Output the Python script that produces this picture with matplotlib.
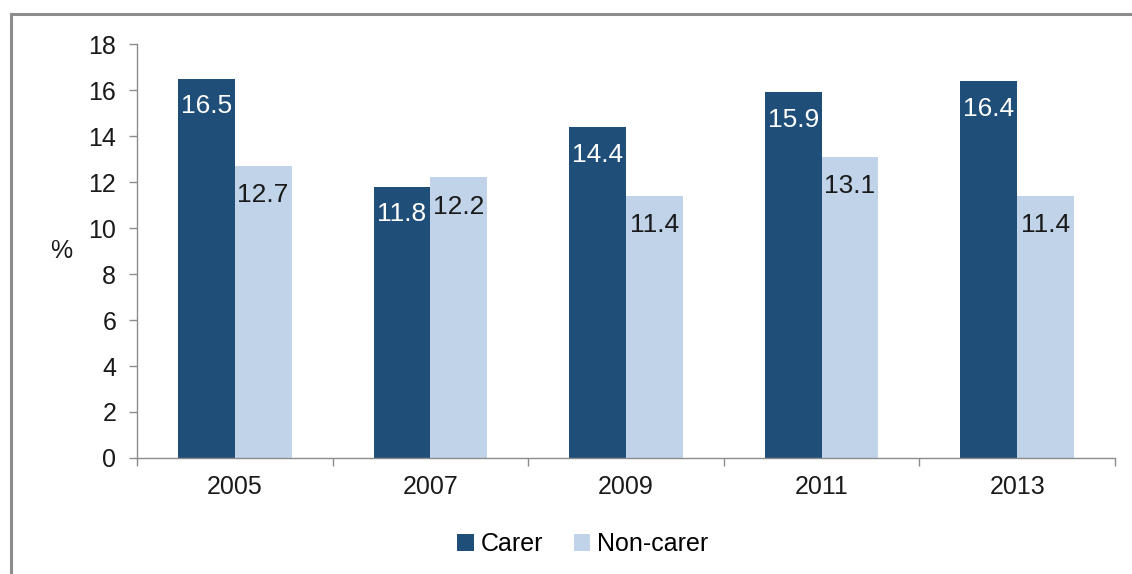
import numpy as np
import matplotlib.pyplot as plt
from matplotlib.lines import Line2D

plt.rcParams['font.family'] = ['Liberation Sans', 'DejaVu Sans']

# Daten
years = ['2005', '2007', '2009', '2011', '2013']
carer = [16.5, 11.8, 14.4, 15.9, 16.4]
non_carer = [12.7, 12.2, 11.4, 13.1, 11.4]

col_carer = '#1f4e79'
col_non = '#c0d3e9'
col_axis = '#8c8c8c'

fig = plt.figure(figsize=(11.32, 5.74), dpi=100)
ax = fig.add_axes([0.121, 0.2021, 0.864, 0.7212])

x = np.arange(len(years))
w = 0.29
b1 = ax.bar(x - w / 2, carer, w, color=col_carer, label='Carer')
b2 = ax.bar(x + w / 2, non_carer, w, color=col_non, label='Non-carer')

# Beschriftungen oben in den Balken
for rect, v in zip(b1, carer):
    ax.annotate(f'{v:.1f}', (rect.get_x() + rect.get_width() / 2, v),
                xytext=(0, -20), textcoords='offset points',
                ha='center', va='center', fontsize=19, color='white')
for rect, v in zip(b2, non_carer):
    ax.annotate(f'{v:.1f}', (rect.get_x() + rect.get_width() / 2, v),
                xytext=(0, -21), textcoords='offset points',
                ha='center', va='center', fontsize=19, color='#1a1a1a')

ax.set_xlim(-0.5, len(years) - 0.5)
ax.set_ylim(0, 18)
ax.set_yticks(range(0, 19, 2))
ax.set_xticks(x)
ax.set_xticklabels(years)
ax.set_xticks(np.arange(-0.5, len(years)), minor=True)
ax.tick_params(axis='x', which='major', length=0, pad=12, labelsize=18, labelcolor='#1a1a1a')
ax.tick_params(axis='x', which='minor', length=6, color=col_axis, width=1)
ax.tick_params(axis='y', length=6, color=col_axis, width=1, pad=9, labelsize=18, labelcolor='#1a1a1a')

for s in ['top', 'right']:
    ax.spines[s].set_visible(False)
for s in ['left', 'bottom']:
    ax.spines[s].set_color(col_axis)
    ax.spines[s].set_linewidth(1)

ax.set_ylabel('%', rotation=0, fontsize=18, color='#1a1a1a', va='center')
ax.yaxis.set_label_coords(-0.077, 0.5)

fig.legend(handles=[b1, b2], loc='center', bbox_to_anchor=(0.515, 0.052), ncol=2,
           frameon=False, fontsize=18, handlelength=0.65, handleheight=0.65,
           handletextpad=0.3, columnspacing=1.2)

# grauer Rahmen (teilweise abgeschnitten)
fig.add_artist(Line2D([0.0097, 0.0097], [0, 0.9756], color=col_axis, lw=2.2, transform=fig.transFigure))
fig.add_artist(Line2D([0.0097, 1], [0.9756, 0.9756], color=col_axis, lw=2.2, transform=fig.transFigure))

plt.savefig('out.png', dpi=100)
